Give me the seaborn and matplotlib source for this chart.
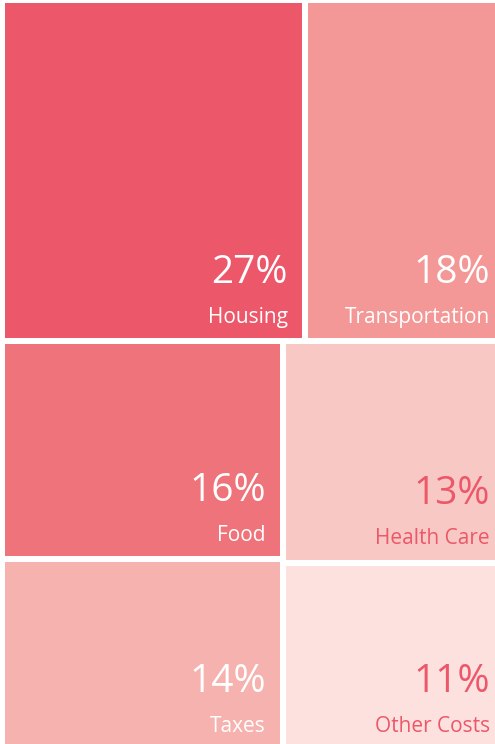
import numpy as np
import pandas as pd
import seaborn as sns
import matplotlib.pyplot as plt
from matplotlib.patches import Rectangle

# ============================== DATA ==============================

categories = ["Housing", "Transportation", "Food", "Taxes", "Health Care", "Other Costs"]
shares     = [27, 18, 16, 14, 13, 11]
blocks     = ["top", "top", "bottom", "bottom", "bottom", "bottom"]
columns    = ["A", "B", "C", "C", "D", "D"]
tile_colors = ["#EC5769", "#F39896", "#EE737A", "#F6B2AE", "#F8C8C4", "#FDE1DE"]
text_colors = ["white", "white", "white", "white", "#EC5769", "#EC5769"]

df = pd.DataFrame({"Category": categories, "Share": shares, "Block": blocks, "Column": columns,
                   "Fill": tile_colors, "Ink": text_colors})

# ============================== LAYOUT ==============================
# slice-and-dice: blocks stacked vertically, columns side by side, tiles stacked in a column

total = df["Share"].sum()
rects = {}
y0 = 0.0
for block, bdf in df.groupby("Block", sort=False):
    bh = bdf["Share"].sum() / total
    x0 = 0.0
    for col, cdf in bdf.groupby("Column", sort=False):
        cw = cdf["Share"].sum() / bdf["Share"].sum()
        yy = y0
        for _, r in cdf.iterrows():
            th = bh * r["Share"] / cdf["Share"].sum()
            rects[r["Category"]] = (x0, yy, cw, th)
            yy += th
        x0 += cw
    y0 += bh

# ============================== PLOT ==============================

sns.set_theme(style="white")
plt.rcParams["font.family"] = ["Open Sans", "DejaVu Sans"]

DPI = 100
fig = plt.figure(figsize=(4.95, 7.44), dpi=DPI)
# tiles extend slightly past the right/bottom border, as in the reference crop
ax = fig.add_axes([2 / 495, -6 / 744, 505 / 495, 750 / 744])
ax.set_xlim(0, 1)
ax.set_ylim(1, 0)
ax.axis("off")

px = 72 / DPI
for _, r in df.iterrows():
    x, y, w, h = rects[r["Category"]]
    ax.add_patch(Rectangle((x, y), w, h, facecolor=r["Fill"], edgecolor="white", linewidth=6 * px))
    ax.annotate(r["Category"], xy=(x + w, y + h), xytext=(-17 * px, 18 * px), textcoords="offset points",
                ha="right", va="baseline", fontsize=15, color=r["Ink"])
    ax.annotate(f"{r['Share']}%", xy=(x + w, y + h), xytext=(-17 * px, 58 * px), textcoords="offset points",
                ha="right", va="baseline", fontsize=28, color=r["Ink"])

fig.savefig("out.png", dpi=DPI)
